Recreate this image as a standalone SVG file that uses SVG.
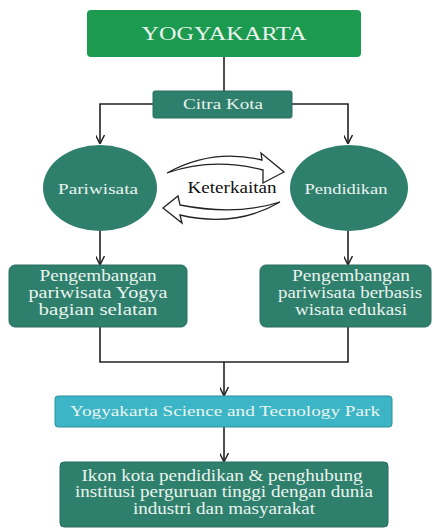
<svg xmlns="http://www.w3.org/2000/svg" width="433" height="528" viewBox="0 0 433 528">
<defs>
<marker id="ah" viewBox="0 0 10 10" refX="9" refY="5" markerWidth="9" markerHeight="9" markerUnits="userSpaceOnUse" orient="auto">
<path d="M0,0 L10,5 L0,10" fill="none" stroke="#222" stroke-width="1.6"/>
</marker>
</defs>
<style>
.t{font-family:"Liberation Serif","Times New Roman",serif;fill:#eaf4ee;text-anchor:middle}
.box{fill:#2f7f6d;stroke:#2a6f60;stroke-width:1}
.ln{fill:none;stroke:#222;stroke-width:1.6}
.ha{fill:#fff;stroke:#222;stroke-width:1.3;stroke-linejoin:miter}
</style>
<rect width="433" height="528" fill="#ffffff"/>
<g id="connectors">
<path class="ln" d="M224,57 V91"/>
<path class="ln" d="M153,104 H100 V143" marker-end="url(#ah)"/>
<path class="ln" d="M292,104 H348 V143" marker-end="url(#ah)"/>
<path class="ln" d="M100,231 V264" marker-end="url(#ah)"/>
<path class="ln" d="M348,231 V264" marker-end="url(#ah)"/>
<path class="ln" d="M100,327 V362 H348 V327"/>
<path class="ln" d="M224,362 V395" marker-end="url(#ah)"/>
<path class="ln" d="M224,427 V461" marker-end="url(#ah)"/>
<path class="ha" d="M167,173 Q212,148 262,160 L261,153 L284,172 L263,183 L263,170 Q212,157 167,173 Z"/>
<path class="ha" d="M280,202 Q236,228 180,215 L182,223 L163,208 L178,196 L180,205 Q236,216 280,202 Z"/>
</g>
<g id="yogyakarta">
<rect x="87" y="10" width="274" height="47" rx="4" fill="#1b9a50"/>
<text class="t" x="224" y="40" font-size="19" textLength="165" lengthAdjust="spacingAndGlyphs">YOGYAKARTA</text>
</g>
<g id="citra-kota">
<rect class="box" x="153" y="91" width="139" height="27" rx="2"/>
<text class="t" x="223" y="109" font-size="15" textLength="80" lengthAdjust="spacingAndGlyphs">Citra Kota</text>
</g>
<g id="pariwisata">
<ellipse cx="100" cy="188" rx="57" ry="43" fill="#2f7f6d"/>
<text class="t" x="98" y="194" font-size="15" textLength="80" lengthAdjust="spacingAndGlyphs">Pariwisata</text>
</g>
<g id="keterkaitan">
<text x="232" y="193" font-size="16" font-family="Liberation Serif,serif" fill="#111" text-anchor="middle" textLength="89" lengthAdjust="spacingAndGlyphs">Keterkaitan</text>
</g>
<g id="pendidikan">
<ellipse cx="349" cy="188" rx="59" ry="43" fill="#2f7f6d"/>
<text class="t" x="346" y="194" font-size="14" textLength="83" lengthAdjust="spacingAndGlyphs">Pendidikan</text>
</g>
<g id="pengembangan-selatan">
<rect class="box" x="9" y="265" width="178" height="62" rx="6"/>
<text class="t" x="98" y="281" font-size="16" textLength="117" lengthAdjust="spacingAndGlyphs">Pengembangan</text>
<text class="t" x="98" y="298" font-size="16" textLength="139" lengthAdjust="spacingAndGlyphs">pariwisata Yogya</text>
<text class="t" x="98" y="315" font-size="16" textLength="119" lengthAdjust="spacingAndGlyphs">bagian selatan</text>
</g>
<g id="pengembangan-edukasi">
<rect class="box" x="260" y="265" width="171" height="62" rx="6"/>
<text class="t" x="351" y="281" font-size="16" textLength="118" lengthAdjust="spacingAndGlyphs">Pengembangan</text>
<text class="t" x="350" y="298" font-size="16" textLength="144" lengthAdjust="spacingAndGlyphs">pariwisata berbasis</text>
<text class="t" x="351" y="315" font-size="16" textLength="112" lengthAdjust="spacingAndGlyphs">wisata edukasi</text>
</g>
<g id="ystp">
<rect x="55" y="396" width="337" height="31" rx="3" fill="#3cb6c6" stroke="#2e8f9c" stroke-width="1"/>
<text class="t" x="225" y="416" font-size="15" textLength="310" lengthAdjust="spacingAndGlyphs">Yogyakarta Science and Tecnology Park</text>
</g>
<g id="ikon">
<rect class="box" x="60" y="462" width="328" height="65" rx="4"/>
<text class="t" x="222" y="481" font-size="16" textLength="281" lengthAdjust="spacingAndGlyphs">Ikon kota pendidikan &amp; penghubung</text>
<text class="t" x="224" y="497" font-size="16" textLength="298" lengthAdjust="spacingAndGlyphs">institusi perguruan tinggi dengan dunia</text>
<text class="t" x="224" y="514" font-size="16" textLength="182" lengthAdjust="spacingAndGlyphs">industri dan masyarakat</text>
</g>
</svg>
